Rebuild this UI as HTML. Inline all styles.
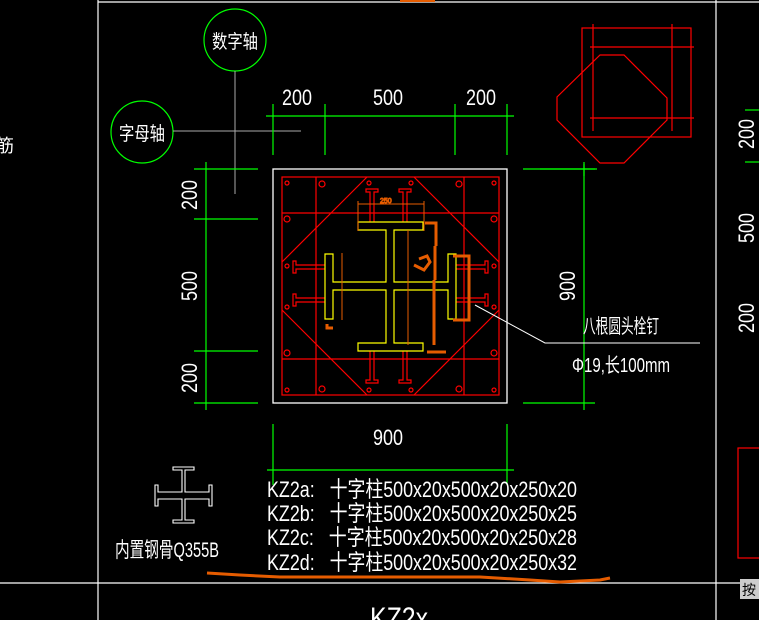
<!DOCTYPE html>
<html><head><meta charset="utf-8"><style>
html,body{margin:0;padding:0;background:#000;width:759px;height:620px;overflow:hidden}
svg{display:block}
text{font-family:"Liberation Sans","Noto Sans CJK SC",sans-serif;fill:#fff}
</style></head><body>
<svg width="759" height="620" viewBox="0 0 759 620" xmlns="http://www.w3.org/2000/svg">
<rect width="759" height="620" fill="#000"/>
<!-- frame -->
<g stroke="#fff" stroke-width="1.2" fill="none">
<line x1="98" y1="0" x2="98" y2="620"/>
<line x1="98" y1="2" x2="759" y2="2"/>
<line x1="716" y1="0" x2="716" y2="620"/>
<line x1="0" y1="583" x2="759" y2="583"/>
</g>
<rect x="400" y="0" width="35" height="2" fill="#e65c00"/>
<text x="-4" y="152" font-size="18">筋</text>
<!-- axis bubbles -->
<g stroke="#0f0" stroke-width="1.2" fill="none">
<circle cx="235" cy="40" r="31"/>
<circle cx="142" cy="132" r="31"/>
</g>
<g stroke="#aaa" stroke-width="1">
<line x1="235" y1="71" x2="235" y2="194"/>
<line x1="173" y1="131" x2="301" y2="131"/>
</g>
<text x="235" y="48" font-size="19" text-anchor="middle" textLength="46" lengthAdjust="spacingAndGlyphs">数字轴</text>
<text x="142" y="140" font-size="19" text-anchor="middle" textLength="46" lengthAdjust="spacingAndGlyphs">字母轴</text>
<!-- dims green -->
<g stroke="#0f0" stroke-width="1.2" fill="none">
<line x1="266" y1="116" x2="514" y2="116"/>
<line x1="273" y1="104" x2="273" y2="155"/><line x1="325" y1="104" x2="325" y2="155"/>
<line x1="455" y1="104" x2="455" y2="155"/><line x1="507" y1="104" x2="507" y2="155"/>
<line x1="206" y1="162" x2="206" y2="410"/>
<line x1="194" y1="169" x2="258" y2="169"/><line x1="194" y1="219" x2="258" y2="219"/>
<line x1="194" y1="351" x2="258" y2="351"/><line x1="194" y1="403" x2="258" y2="403"/>
<line x1="584" y1="162" x2="584" y2="410"/>
<line x1="523" y1="169" x2="595" y2="169"/><line x1="523" y1="403" x2="595" y2="403"/>
<line x1="267" y1="470" x2="514" y2="470"/>
<line x1="273" y1="424" x2="273" y2="485"/><line x1="507" y1="424" x2="507" y2="485"/>
<line x1="0" y1="170" x2="0" y2="170"/>
<line x1="745" y1="110" x2="759" y2="110"/><line x1="745" y1="162" x2="759" y2="162"/>
<line x1="540" y1="169" x2="597" y2="169"/><line x1="584" y1="164" x2="584" y2="176"/>
</g>
<g font-size="22">
<text x="297" y="105" text-anchor="middle" textLength="30" lengthAdjust="spacingAndGlyphs">200</text>
<text x="388" y="105" text-anchor="middle" textLength="30" lengthAdjust="spacingAndGlyphs">500</text>
<text x="481" y="105" text-anchor="middle" textLength="30" lengthAdjust="spacingAndGlyphs">200</text>
<text x="388" y="445" text-anchor="middle" textLength="30" lengthAdjust="spacingAndGlyphs">900</text>
<text transform="translate(197,195) rotate(-90)" text-anchor="middle" textLength="30" lengthAdjust="spacingAndGlyphs">200</text>
<text transform="translate(197,286) rotate(-90)" text-anchor="middle" textLength="30" lengthAdjust="spacingAndGlyphs">500</text>
<text transform="translate(197,378) rotate(-90)" text-anchor="middle" textLength="30" lengthAdjust="spacingAndGlyphs">200</text>
<text transform="translate(575,286) rotate(-90)" text-anchor="middle" textLength="30" lengthAdjust="spacingAndGlyphs">900</text>
<text transform="translate(754,134) rotate(-90)" text-anchor="middle" textLength="30" lengthAdjust="spacingAndGlyphs">200</text>
<text transform="translate(754,228) rotate(-90)" text-anchor="middle" textLength="30" lengthAdjust="spacingAndGlyphs">500</text>
<text transform="translate(754,318) rotate(-90)" text-anchor="middle" textLength="30" lengthAdjust="spacingAndGlyphs">200</text>
</g>
<!-- main section -->
<rect x="273" y="169" width="234" height="234" fill="none" stroke="#fff" stroke-width="1.3"/>
<g stroke="#f00" stroke-width="1.2" fill="none">
<rect x="282" y="177" width="217" height="218"/>
<line x1="282" y1="262" x2="367" y2="177"/><line x1="414" y1="177" x2="499" y2="262"/>
<line x1="282" y1="310" x2="367" y2="395"/><line x1="414" y1="395" x2="499" y2="310"/>
<line x1="282" y1="213" x2="499" y2="213"/><line x1="282" y1="359" x2="499" y2="359"/>
<line x1="316" y1="177" x2="316" y2="395"/><line x1="464" y1="177" x2="464" y2="395"/>
<!-- studs -->
<path d="M370,222V192h-4v-3h12v3h-4v30M403,222V192h-4v-3h12v3h-4v30"/>
<path d="M370,351V380h-4v3h12v-3h-4V351M403,351V380h-4v3h12v-3h-4V351"/>
<path d="M325,265H296v-4h-3v12h3v-4h29M325,298H296v-4h-3v12h3v-4h29"/>
<path d="M456,265H485v-4h3v12h-3v-4h-29M456,298H485v-4h3v12h-3v-4h-29"/>
<circle cx="287" cy="183" r="2"/><circle cx="494" cy="183" r="2"/>
<circle cx="287" cy="390" r="2"/><circle cx="494" cy="390" r="2"/>
<circle cx="322" cy="184" r="3"/><circle cx="459" cy="184" r="3"/>
<circle cx="322" cy="389" r="3"/><circle cx="459" cy="389" r="3"/>
<circle cx="287" cy="219" r="3"/><circle cx="494" cy="219" r="3"/>
<circle cx="287" cy="353" r="3"/><circle cx="494" cy="353" r="3"/>
<circle cx="287" cy="266" r="2"/><circle cx="494" cy="266" r="2"/>
<circle cx="287" cy="307" r="2"/><circle cx="494" cy="307" r="2"/>
<circle cx="369" cy="183" r="2"/><circle cx="411" cy="183" r="2"/>
<circle cx="369" cy="390" r="2"/><circle cx="411" cy="390" r="2"/>
</g>
<path d="M358,222H423V230H394V282H448V254H456V319H448V290H394V343H423V351H358V343H386V290H333V319H325V254H333V282H386V230H358Z" fill="none" stroke="#ff0" stroke-width="1.2"/>
<!-- orange marks -->
<g stroke="#e65c00" fill="none">
<path d="M358,204H424M358,201v30M424,201v30" stroke-width="1"/>
<path d="M342,253V320M408,230V345" stroke-width="1"/>
<path d="M425,223H436V246M435,246V280M434,280V345M427,352H446M453,256H469V320H453" stroke-width="3"/>
<path d="M414,265l10,5 6,-8 -3,-6 -8,3 M327,324v4h6" stroke-width="3"/>
<text x="380" y="203" font-size="7" style="fill:#e65c00">250</text>
</g>
<!-- leader -->
<g stroke="#fff" stroke-width="1" fill="none">
<polyline points="475,305 545,343 700,343"/>
</g>
<text x="583" y="333" font-size="20" textLength="76" lengthAdjust="spacingAndGlyphs">八根圆头栓钉</text>
<text x="572" y="372" font-size="20" textLength="98" lengthAdjust="spacingAndGlyphs">Φ19,长100mm</text>
<!-- top-right detail -->
<g stroke="#f00" stroke-width="1.2" fill="none">
<rect x="582" y="28" width="109" height="109"/>
<polygon points="600,55 624,55 667,98 667,120 624,163 600,163 557,120 557,97"/>
<line x1="590" y1="47" x2="694" y2="47"/><line x1="590" y1="118" x2="694" y2="118"/>
<line x1="593" y1="24" x2="593" y2="131"/><line x1="672" y1="24" x2="672" y2="131"/>
<rect x="738" y="448" width="30" height="110"/>
</g>
<!-- steel icon -->
<g stroke="#fff" stroke-width="1.1" fill="none">
<path d="M173,467H194V470H185V492H209V485H212V506H209V499H185V520H194V523H173V520H182V499H158V506H155V485H158V492H182V470H173Z"/>
</g>
<text x="115" y="557" font-size="21" textLength="104" lengthAdjust="spacingAndGlyphs">内置钢骨Q355B</text>
<g font-size="22">
<text x="267" y="497" textLength="310" lengthAdjust="spacingAndGlyphs">KZ2a:&#160;&#160;&#160;十字柱500x20x500x20x250x20</text>
<text x="267" y="521" textLength="310" lengthAdjust="spacingAndGlyphs">KZ2b:&#160;&#160;&#160;十字柱500x20x500x20x250x25</text>
<text x="267" y="545" textLength="310" lengthAdjust="spacingAndGlyphs">KZ2c:&#160;&#160;&#160;十字柱500x20x500x20x250x28</text>
<text x="267" y="570" textLength="310" lengthAdjust="spacingAndGlyphs">KZ2d:&#160;&#160;&#160;十字柱500x20x500x20x250x32</text>
</g>
<path d="M207,573L240,575 280,577 480,577 530,580 560,582 600,580 610,578" stroke="#e65c00" stroke-width="3" fill="none"/>
<text x="370" y="628" font-size="30" textLength="58" lengthAdjust="spacingAndGlyphs">KZ2x</text>
<rect x="740" y="579" width="19" height="20" fill="#ccc"/>
<text x="742" y="595" font-size="14" style="fill:#000">按</text>
</svg>
</body></html>
